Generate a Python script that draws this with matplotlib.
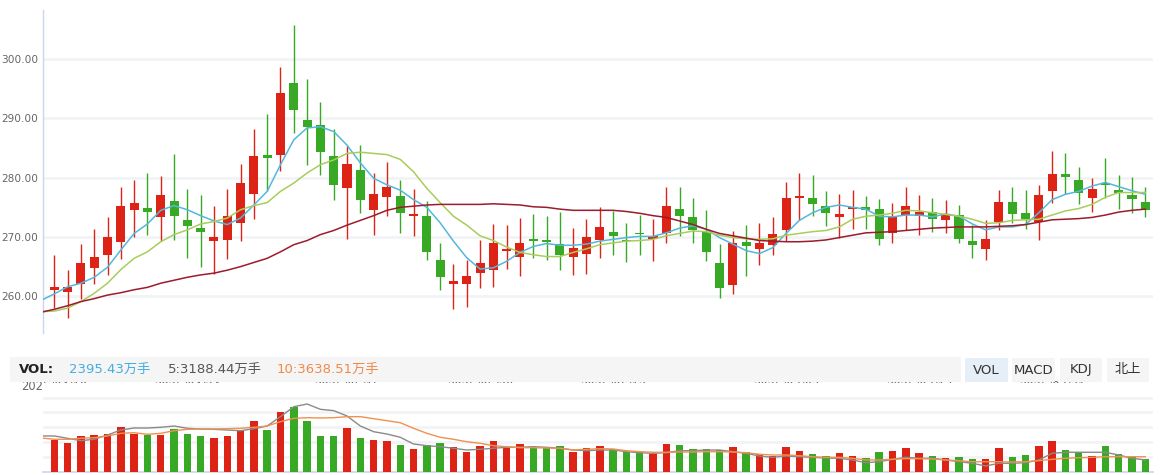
import numpy as np
import matplotlib
matplotlib.use("Agg")
import matplotlib.pyplot as plt
from matplotlib.patches import Rectangle

# ---------------- data ----------------
opens = [261.1, 260.8, 262.0, 264.8, 266.9, 269.2, 274.5, 274.9, 273.3, 276.1,
         272.9, 271.5, 269.4, 269.5, 272.4, 277.3, 283.9, 283.9, 296.0, 289.8,
         288.9, 283.7, 278.3, 281.3, 274.5, 276.7, 276.9, 273.5, 273.5, 266.1,
         262.1, 262.1, 264.0, 264.5, 267.7, 266.7, 269.7, 269.5, 268.8, 266.7,
         267.2, 269.5, 270.8, 269.5, 270.7, 269.6, 270.6, 274.7, 273.4, 270.8,
         265.6, 261.9, 269.2, 267.9, 268.7, 271.1, 276.5, 276.6, 275.3, 273.3,
         274.8, 275.1, 274.7, 270.7, 273.7, 273.6, 274.2, 272.8, 273.7, 269.3,
         268.0, 272.6, 275.9, 274.0, 272.6, 277.7, 280.6, 279.6, 276.6, 279.1,
         277.9, 277.1, 275.9]
closes = [261.6, 261.6, 265.6, 266.6, 270.0, 275.3, 275.8, 274.3, 277.1, 273.5,
          271.8, 270.9, 270.0, 273.6, 279.1, 283.7, 283.4, 294.3, 291.5, 288.6,
          284.4, 278.7, 282.3, 276.2, 277.3, 278.5, 274.0, 273.9, 267.4, 263.3,
          262.5, 263.5, 265.6, 269.0, 268.0, 269.0, 269.4, 269.2, 267.0, 268.1,
          270.0, 271.7, 270.1, 269.3, 270.5, 270.1, 275.2, 273.6, 271.2, 267.5,
          261.4, 269.0, 268.5, 269.0, 270.5, 276.6, 276.9, 275.5, 274.0, 273.9,
          275.0, 274.6, 269.7, 273.5, 275.2, 274.2, 273.1, 273.8, 269.7, 268.7,
          269.7, 275.9, 273.9, 273.1, 277.1, 280.6, 280.2, 277.5, 278.1, 278.7,
          277.4, 276.4, 274.6]
highs = [267.0, 264.5, 268.8, 271.4, 273.4, 278.5, 279.6, 280.8, 280.3, 284.0,
         278.1, 277.1, 275.3, 278.1, 282.3, 288.2, 290.8, 298.7, 305.8, 296.7,
         292.8, 288.2, 285.3, 285.5, 280.8, 282.7, 279.6, 278.1, 276.1, 269.0,
         265.4, 266.1, 269.5, 272.2, 272.0, 273.2, 273.9, 273.5, 274.2, 271.5,
         273.0, 275.1, 274.4, 272.4, 273.7, 273.0, 278.5, 278.5, 276.6, 274.6,
         268.8, 271.0, 272.0, 272.4, 273.4, 279.3, 280.8, 280.5, 277.8, 277.3,
         278.0, 276.9, 276.4, 275.7, 278.5, 277.1, 276.6, 276.3, 275.4, 272.1,
         272.9, 277.9, 278.4, 277.9, 278.8, 284.5, 284.2, 281.8, 280.0, 283.4,
         280.5, 280.1, 278.4]
lows = [258.0, 256.4, 259.6, 262.1, 263.6, 266.3, 270.0, 270.4, 269.4, 269.5,
        266.5, 265.0, 263.7, 266.3, 269.4, 273.1, 277.8, 281.2, 287.5, 282.1,
        280.5, 276.2, 269.7, 274.0, 270.4, 273.6, 270.6, 270.2, 266.2, 261.1,
        257.9, 258.2, 261.4, 261.6, 264.6, 263.5, 266.5, 266.2, 264.5, 263.6,
        263.8, 266.5, 267.0, 265.7, 266.9, 266.0, 269.0, 270.2, 269.0, 266.0,
        259.7, 260.3, 263.5, 265.2, 266.9, 269.4, 272.8, 273.5, 271.8, 269.9,
        271.4, 271.4, 268.7, 269.0, 271.2, 270.4, 270.9, 270.6, 269.0, 266.5,
        266.2, 271.1, 272.4, 271.4, 269.5, 275.8, 277.3, 275.6, 274.3, 276.6,
        274.8, 274.1, 273.3]

# moving averages (first value = the session before the window)
ma5 = [259.3, 260.4, 261.6, 262.2, 263.2, 264.9, 267.8, 270.6, 272.2, 274.5, 275.3,
       274.6, 273.6, 272.7, 272.1, 273.2, 275.4, 277.7, 282.2, 286.4, 288.4,
       288.6, 287.8, 285.5, 282.5, 279.9, 278.8, 277.9, 276.3, 275.0, 272.4,
       269.3, 266.5, 264.6, 264.8, 265.9, 267.4, 268.4, 268.9, 268.6, 268.6,
       268.8, 269.3, 269.6, 269.9, 270.1, 270.1, 270.7, 271.5, 271.9, 271.3,
       269.9, 268.8, 267.7, 267.2, 268.2, 270.6, 272.8, 274.1, 275.0, 275.4,
       275.0, 274.7, 273.5, 273.4, 273.7, 273.7, 273.4, 273.9, 273.5, 272.2,
       271.2, 271.7, 271.7, 272.1, 274.1, 276.3, 277.2, 277.7, 278.6, 279.2,
       278.5, 277.8, 277.2]
ma10 = [257.4, 257.5, 258.0, 259.1, 260.5, 262.2, 264.5, 266.4, 267.5, 269.2, 270.4,
        271.2, 272.2, 272.6, 273.2, 274.6, 275.3, 275.8, 277.7, 279.1, 280.8,
        282.2, 283.0, 284.1, 284.3, 284.1, 283.9, 283.1, 281.0, 278.2, 275.8,
        273.5, 272.0, 270.2, 269.4, 268.3, 267.4, 267.0, 266.7, 266.7, 267.4,
        268.0, 268.7, 269.0, 269.3, 269.4, 269.6, 270.2, 270.6, 271.0, 270.9,
        270.3, 269.9, 269.7, 269.6, 269.7, 270.3, 270.6, 270.9, 271.1, 271.7,
        273.0, 273.5, 273.7, 274.0, 274.5, 274.4, 274.1, 273.8, 273.5, 273.0,
        272.3, 272.4, 272.8, 272.9, 273.0, 273.7, 274.4, 274.8, 275.5, 276.7,
        277.5, 277.5, 277.5]
ma30 = [257.3, 257.8, 258.4, 259.1, 259.6, 260.2, 260.6, 261.1, 261.5, 262.2, 262.7,
        263.2, 263.6, 263.9, 264.4, 265.0, 265.7, 266.4, 267.5, 268.7, 269.4,
        270.4, 271.1, 272.0, 272.8, 273.6, 274.5, 275.0, 275.2, 275.4, 275.5,
        275.5, 275.5, 275.5, 275.6, 275.5, 275.4, 275.1, 275.0, 274.7, 274.5,
        274.5, 274.5, 274.5, 274.3, 274.0, 273.6, 273.3, 272.7, 272.1, 271.3,
        270.6, 270.2, 269.8, 269.4, 269.3, 269.2, 269.2, 269.3, 269.5, 269.9,
        270.3, 270.7, 270.8, 270.9, 271.1, 271.3, 271.5, 271.6, 271.7, 271.7,
        271.7, 271.8, 271.9, 272.1, 272.5, 272.9, 273.0, 273.1, 273.3, 273.7,
        274.2, 274.5, 274.7]

# volume in 万手
volume = [5910, 5350, 6650, 6830, 7020, 8310, 7020, 6830, 6830, 7940,
          7020, 6650, 6280, 6650, 7570, 9420, 7750, 11080, 12000, 9420,
          6650, 6650, 8120, 6280, 5910, 5720, 4980, 4250, 4980, 5350,
          4620, 3690, 4800, 5720, 4620, 5170, 4430, 4430, 4800, 3690,
          4430, 4800, 4250, 3690, 3690, 3320, 5170, 4980, 4250, 4250,
          4060, 4620, 3690, 3320, 2950, 4620, 3880, 3320, 2950, 3510,
          2950, 2580, 3690, 3880, 4430, 3510, 2950, 2580, 2770, 2400,
          2400, 4430, 2770, 3140, 4800, 5720, 4060, 3690, 2950, 4800,
          3320, 2770, 2395.43]
vol_ma5 = [6650, 6650, 6220, 5780, 6040, 6830, 7750, 8120, 8120, 8250, 8490,
           8070, 7940, 7880, 7750, 7620, 7990, 8490, 10210, 12050, 12550,
           11570, 11320, 10340, 8490, 7440, 7010, 6410, 5170, 4850, 4670,
           4380, 4060, 4190, 4380, 4560, 4560, 4670, 4560, 4380, 4060,
           3930, 4060, 4060, 3750, 3560, 3450, 3560, 3930, 3930, 4060,
           4060, 3750, 3450, 2950, 2710, 2950, 2820, 2710, 2580, 2530,
           2220, 1720, 1900, 2340, 2710, 2530, 2530, 2220, 1900, 1610,
           1110, 1610, 1610, 1720, 2220, 3450, 3640, 3640, 3640, 3640,
           3140, 2530, 2220]
vol_ma10 = [6280, 6040, 6040, 6220, 6330, 6650, 7140, 7250, 6960, 7140, 7620,
            7880, 7940, 7940, 7990, 8070, 8250, 8490, 9290, 9910, 10020,
            9970, 10020, 10210, 10210, 9840, 9470, 9100, 8070, 7140, 6410,
            6040, 5590, 5300, 4850, 4670, 4490, 4490, 4430, 4380, 4060,
            4190, 4300, 4250, 3930, 3750, 3640, 3640, 3690, 3690, 3750,
            3750, 3690, 3560, 3270, 3140, 3140, 3010, 2820, 2710, 2710,
            2530, 2220, 2220, 2340, 2460, 2460, 2400, 2220, 2090, 1900,
            1900, 1900, 1850, 1900, 2090, 2340, 2530, 2640, 2710, 2820,
            2820, 2820, 2820]

tick_idx = [0, 10, 22, 32, 42, 55, 65, 75]
tick_labels = ["2025/04/10", "2025/04/24", "2025/05/15", "2025/05/29",
               "2025/06/12", "2025/07/03", "2025/07/17", "2025/07/31"]
price_ticks = [260, 270, 280, 290, 300]

vol_text = "2395.43万手"
vol_ma5_text = "5:3188.44万手"
vol_ma10_text = "10:3638.51万手"
buttons = ["VOL", "MACD", "KDJ", "北上"]

# ---------------- style ----------------
RED = "#dc2316"
GREEN = "#38a924"
C_MA5 = "#53b8dc"
C_MA10 = "#a8cd5c"
C_MA30 = "#9c1b2c"
GRID = "#f1f3f6"
AXIS = "#ccd6eb"

plt.rcParams['font.family'] = ['DejaVu Sans', 'Noto Sans CJK SC']

W, H = 1160, 475
fig = plt.figure(figsize=(W / 100, H / 100), dpi=100)
fig.patch.set_facecolor("white")

L, R = 43, 1153
ax = fig.add_axes([L / W, 1 - 333 / H, (R - L) / W, (333 - 10) / H])
axv = fig.add_axes([L / W, 1 - 472 / H, (R - L) / W, (472 - 382.6) / H])

n = len(opens)
x = np.arange(n)
xma = np.arange(-1, n)
xlim = (-0.85, 82.58)

# ---- main candlestick panel ----
o = np.array(opens); c = np.array(closes)
up = c >= o
cols = np.where(up, RED, GREEN)
ax.vlines(x, lows, highs, colors=cols, lw=1.0, zorder=3)
bottom = np.minimum(o, c)
height = np.maximum(np.abs(c - o), 0.22)
ax.bar(x, height, bottom=bottom, width=0.68, color=cols, zorder=4, linewidth=0)

ax.plot(xma, ma5, color=C_MA5, lw=1.1, zorder=5)
ax.plot(xma, ma10, color=C_MA10, lw=1.1, zorder=5)
ax.plot(xma, ma30, color=C_MA30, lw=1.1, zorder=5)

ax.set_xlim(*xlim)
ax.set_ylim(253.8, 308.3)
ax.set_yticks(price_ticks)
ax.set_yticklabels([f"{v:.2f}" for v in price_ticks])
ax.grid(axis='y', color=GRID, lw=2)
ax.set_axisbelow(True)
for s in ['top', 'right', 'bottom']:
    ax.spines[s].set_visible(False)
ax.spines['left'].set_color(AXIS)
ax.spines['left'].set_linewidth(1.0)
ax.tick_params(axis='y', length=0, pad=3.6, labelsize=7.6, labelcolor='#666666')
ax.set_xticks(tick_idx)
ax.set_xticklabels(tick_labels)
ax.tick_params(axis='x', length=0, pad=33.2, labelsize=8.3, labelcolor='#666666')

# ---- volume panel ----
axv.bar(x, volume, width=0.56, color=cols, linewidth=0, zorder=3)
axv.plot(xma, vol_ma5, color="#8a8a8a", lw=1.0, zorder=4)
axv.plot(xma, vol_ma10, color="#f0914f", lw=1.0, zorder=4)
axv.set_xlim(*xlim)
axv.set_ylim(0, 16500)
axv.set_yticks([2750 * k for k in range(1, 6)])
axv.set_yticklabels([])
axv.set_xticks([])
axv.grid(axis='y', color=GRID, lw=2)
axv.set_axisbelow(True)
for s in ['top', 'right', 'left']:
    axv.spines[s].set_visible(False)
axv.spines['bottom'].set_color(AXIS)
axv.spines['bottom'].set_linewidth(1.2)
axv.tick_params(length=0)

# ---- overlay: indicator header bar & buttons ----
ov = fig.add_axes([0, 0, 1, 1], zorder=10)
ov.set_xlim(0, W)
ov.set_ylim(H, 0)
ov.axis('off')
ov.patch.set_alpha(0)
ov.add_patch(Rectangle((10, 357), 951, 24.5, facecolor="#f5f5f5", edgecolor='none'))
ov.text(19, 369.5, "VOL:", fontsize=9.5, fontweight='bold', color='#222222', va='center', ha='left')
ov.text(69, 369.5, vol_text, fontsize=9.5, color='#45aedf', va='center', ha='left')
ov.text(168, 369.5, vol_ma5_text, fontsize=9.5, color='#555555', va='center', ha='left')
ov.text(277, 369.5, vol_ma10_text, fontsize=9.5, color='#f08a4b', va='center', ha='left')

btn_x = [965, 1012, 1060, 1107]
btn_w = [43, 43, 42, 42]
for i, (bx, bw, lab) in enumerate(zip(btn_x, btn_w, buttons)):
    fc = "#e6eef8" if i == 0 else "#f5f5f5"
    ov.add_patch(Rectangle((bx, 358), bw, 24, facecolor=fc, edgecolor='none'))
    ov.text(bx + bw / 2, 370, lab, fontsize=9.5, color='#333333', va='center', ha='center')

fig.savefig("out.png", dpi=100, facecolor="white")
